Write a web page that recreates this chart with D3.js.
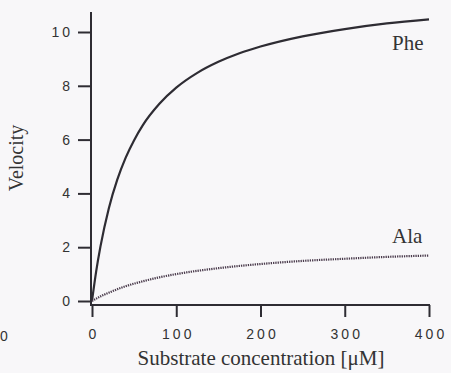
<!DOCTYPE html>
<html><head><meta charset="utf-8">
<script src="https://cdn.jsdelivr.net/npm/d3@7"></script>
<style>
html,body{margin:0;padding:0;background:#f8f7f9;}
svg{display:block;}
</style></head>
<body>
<svg id="c" width="451" height="373"></svg>
<script>
// data
const pheX = [0, 5, 10, 20, 30, 40, 50, 60, 80, 100, 125, 150, 175, 200, 250, 300, 350, 400];
const pheY = [0, 1.11, 2.02, 3.45, 4.51, 5.33, 5.98, 6.52, 7.33, 7.93, 8.48, 8.89, 9.21, 9.46, 9.84, 10.11, 10.32, 10.47];
const alaX = [0, 10, 20, 40, 60, 80, 100, 150, 200, 250, 300, 350, 400];
const alaY = [0, 0.17, 0.31, 0.55, 0.73, 0.88, 1.0, 1.22, 1.375, 1.49, 1.57, 1.64, 1.69];
const xTicks = [0, 100, 200, 300, 400];
const yTicks = [0, 2, 4, 6, 8, 10];
const seriesLabels = ["Phe", "Ala"];
const xTitle = "Substrate concentration [\u03bcM]";
const yTitle = "Velocity";

const svg = d3.select("#c");
const x = d3.scaleLinear().domain([0, 400]).range([92, 429]);
const y = d3.scaleLinear().domain([0, 10]).range([301, 32]);
const ink = "#2e2c33";

// axes
const yAxis = d3.axisLeft(y).tickValues(yTicks).tickSize(13).tickPadding(5).tickFormat(d3.format("d"));
const gy = svg.append("g").attr("transform", "translate(91,0)").call(yAxis);
gy.select(".domain").remove();
gy.append("line").attr("x1", 0).attr("x2", 0).attr("y1", 12).attr("y2", 306).attr("stroke", ink).attr("stroke-width", 2);

const xAxis = d3.axisBottom(x).tickValues(xTicks).tickSize(12).tickPadding(12).tickFormat(d3.format("d"));
const gx = svg.append("g").attr("transform", "translate(0,305)").call(xAxis);
gx.select(".domain").remove();
gx.append("line").attr("x1", 90).attr("x2", 430).attr("y1", 0).attr("y2", 0).attr("stroke", ink).attr("stroke-width", 2);

[gx, gy].forEach(g => {
  g.selectAll(".tick line").attr("stroke", ink).attr("stroke-width", 2);
  g.selectAll(".tick text").attr("fill", "#333")
    .attr("font-family", "Liberation Sans, Arial, sans-serif")
    .attr("font-size", 14).attr("letter-spacing", "3px");
});
gx.selectAll(".tick text").attr("dx", "1.5px");

// curves
const line = d3.line().x(d => x(d[0])).y(d => y(d[1])).curve(d3.curveMonotoneX);
svg.append("path").datum(pheX.map((v, i) => [v, pheY[i]]))
  .attr("d", line).attr("fill", "none").attr("stroke", ink).attr("stroke-width", 2.2);
svg.append("path").datum(alaX.map((v, i) => [v, alaY[i]]))
  .attr("d", line).attr("fill", "none").attr("stroke", "#4a3b4c").attr("stroke-width", 2.2)
  .attr("stroke-dasharray", "1.3,1");

// series labels
const serif = "Liberation Serif, Times New Roman, serif";
svg.append("text").attr("x", 392).attr("y", 50).text(seriesLabels[0])
  .attr("font-family", serif).attr("font-size", 21).attr("fill", "#333");
svg.append("text").attr("x", 392).attr("y", 243).text(seriesLabels[1])
  .attr("font-family", serif).attr("font-size", 21).attr("fill", "#333");

// titles
svg.append("text").attr("x", 261).attr("y", 365).attr("text-anchor", "middle").text(xTitle)
  .attr("font-family", serif).attr("font-size", 21).attr("fill", "#333");
svg.append("text").attr("transform", "translate(23,158) rotate(-90)").attr("text-anchor", "middle").text(yTitle)
  .attr("font-family", serif).attr("font-size", 20).attr("fill", "#333");

// stray label from neighbouring panel
svg.append("text").attr("x", 0).attr("y", 341).text("0")
  .attr("font-family", "Liberation Sans, Arial, sans-serif").attr("font-size", 14).attr("fill", "#333");
</script>
</body></html>
